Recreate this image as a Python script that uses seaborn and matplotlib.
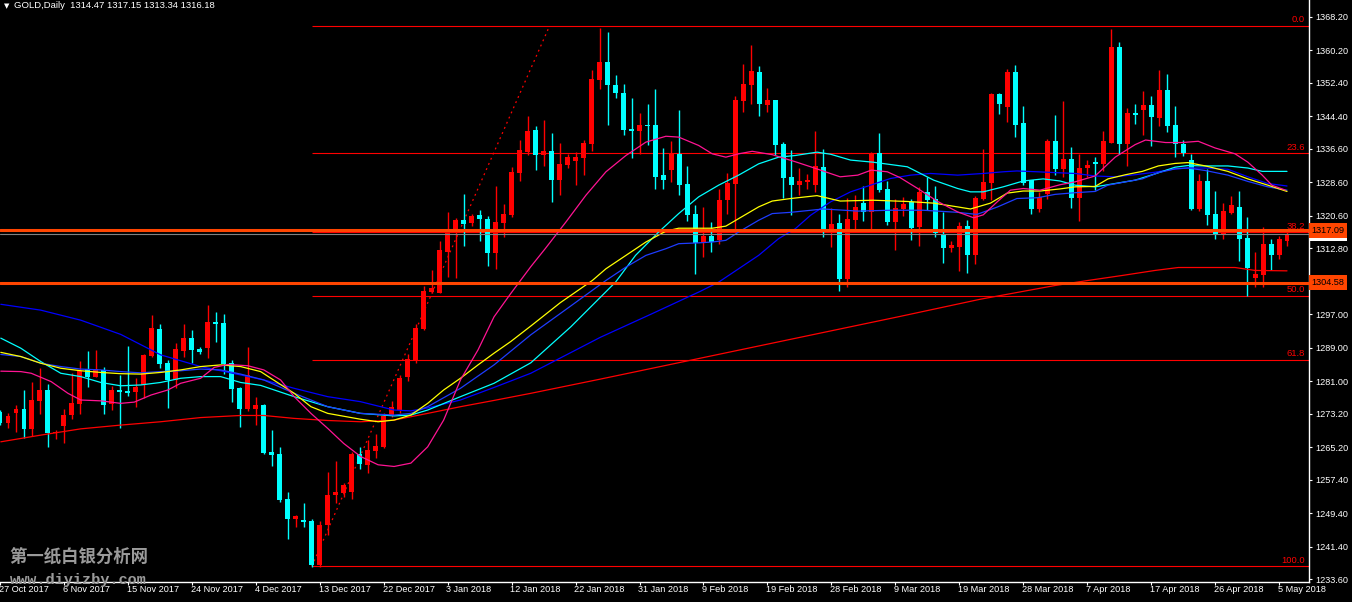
import numpy as np
import pandas as pd
import seaborn as sns
import matplotlib.pyplot as plt
import matplotlib.transforms as mtransforms

# daily OHLC, bar 0 = 27 Oct 2017 ... bar 161 = 7 May 2018
opens = [1273.7, 1270.9, 1273.5, 1274.4, 1269.6, 1276.3, 1278.9, 1268.5, 1270.4, 1272.8,
         1275.6, 1283.8, 1282.1, 1283.6, 1275.5, 1278.9, 1278.7, 1278.3, 1280.1, 1287.0,
         1293.5, 1285.4, 1281.2, 1288.2, 1291.3, 1288.7, 1289.0, 1295.2, 1295.0, 1285.4,
         1279.4, 1274.4, 1274.4, 1275.3, 1264.0, 1263.6, 1252.8, 1248.0, 1247.8, 1247.6,
         1237.0, 1246.6, 1253.7, 1254.3, 1254.6, 1263.7, 1260.9, 1264.4, 1265.2, 1272.9,
         1274.1, 1281.9, 1286.1, 1293.5, 1302.4, 1302.2, 1312.0, 1316.4, 1319.6, 1318.8,
         1320.8, 1319.7, 1311.6, 1318.9, 1320.8, 1330.8, 1335.8, 1341.1, 1335.0, 1336.1,
         1329.2, 1332.8, 1333.7, 1334.5, 1337.8, 1353.1, 1357.4, 1351.9, 1350.0, 1341.3,
         1340.8, 1342.3, 1342.3, 1330.3, 1331.6, 1335.4, 1328.2, 1321.0, 1314.1, 1315.7,
         1314.8, 1324.4, 1328.2, 1348.0, 1351.9, 1355.0, 1347.1, 1348.3, 1337.7, 1329.9,
         1327.9, 1328.6, 1327.9, 1332.2, 1317.4, 1318.8, 1305.4, 1319.6, 1323.6, 1321.5,
         1335.6, 1327.0, 1319.1, 1322.2, 1323.9, 1317.9, 1326.3, 1324.6, 1316.2, 1312.9,
         1313.1, 1318.1, 1311.2, 1324.6, 1328.4, 1349.7, 1346.6, 1355.0, 1342.8, 1329.1,
         1322.2, 1325.8, 1338.5, 1331.8, 1334.2, 1324.9, 1332.0, 1333.4, 1333.0, 1338.1,
         1361.0, 1337.8, 1345.0, 1346.0, 1347.1, 1344.0, 1350.7, 1342.3, 1337.8, 1333.9,
         1322.2, 1328.9, 1321.0, 1316.0, 1321.2, 1322.7, 1315.3, 1305.7, 1306.4, 1313.8,
         1311.2, 1314.47]
highs = [1274.0, 1273.3, 1275.3, 1278.9, 1280.7, 1284.1, 1280.3, 1269.4, 1274.4, 1282.9,
         1285.8, 1288.2, 1288.5, 1284.4, 1279.8, 1282.5, 1289.4, 1281.8, 1287.4, 1296.8,
         1294.7, 1286.0, 1290.2, 1294.7, 1293.3, 1289.3, 1299.2, 1297.6, 1297.1, 1286.1,
         1279.7, 1289.2, 1277.2, 1275.6, 1269.3, 1265.3, 1254.5, 1249.1, 1251.8, 1248.0,
         1247.6, 1259.3, 1261.9, 1256.7, 1264.1, 1265.3, 1266.9, 1268.3, 1273.3, 1276.3,
         1282.5, 1287.5, 1294.8, 1303.8, 1307.6, 1314.6, 1321.5, 1320.0, 1325.8, 1321.0,
         1322.0, 1320.5, 1327.7, 1323.4, 1332.3, 1338.8, 1344.5, 1342.1, 1343.6, 1340.4,
         1338.0, 1335.4, 1335.8, 1338.8, 1355.4, 1365.5, 1364.5, 1354.3, 1352.1, 1348.8,
         1345.2, 1347.3, 1350.9, 1336.8, 1338.5, 1345.9, 1332.6, 1323.1, 1322.6, 1319.1,
         1327.1, 1330.8, 1349.2, 1356.9, 1361.4, 1356.4, 1351.2, 1348.3, 1338.2, 1336.2,
         1332.0, 1330.6, 1340.9, 1336.5, 1322.4, 1321.0, 1324.8, 1325.5, 1327.7, 1335.8,
         1340.4, 1328.9, 1324.6, 1325.1, 1324.6, 1327.5, 1329.8, 1327.7, 1321.5, 1314.5,
         1319.1, 1319.6, 1325.3, 1336.5, 1349.9, 1349.9, 1355.7, 1356.6, 1346.8, 1329.1,
         1326.3, 1339.0, 1344.7, 1348.0, 1337.0, 1335.3, 1333.9, 1334.7, 1340.9, 1365.3,
         1362.2, 1346.4, 1347.4, 1350.4, 1349.2, 1355.5, 1354.5, 1346.8, 1338.7, 1335.4,
         1330.6, 1331.8, 1326.5, 1323.6, 1325.3, 1326.5, 1320.3, 1311.9, 1317.9, 1315.0,
         1315.7, 1317.15]
lows = [1270.5, 1269.7, 1268.9, 1267.3, 1267.9, 1273.2, 1265.3, 1267.2, 1266.1, 1271.9,
        1273.2, 1279.7, 1282.1, 1273.2, 1274.1, 1269.9, 1277.5, 1274.9, 1277.1, 1286.9,
        1284.2, 1274.5, 1279.3, 1286.9, 1285.4, 1287.5, 1286.6, 1290.4, 1282.7, 1276.0,
        1270.1, 1273.9, 1270.6, 1263.5, 1260.7, 1252.2, 1243.3, 1246.2, 1246.2, 1236.6,
        1236.6, 1244.3, 1251.8, 1253.4, 1252.8, 1260.1, 1259.1, 1262.7, 1264.9, 1272.4,
        1273.3, 1281.1, 1285.3, 1293.2, 1302.0, 1302.0, 1305.9, 1305.8, 1313.4, 1318.2,
        1314.5, 1308.6, 1307.9, 1315.4, 1320.3, 1329.0, 1335.2, 1331.6, 1332.6, 1323.9,
        1325.5, 1331.9, 1328.0, 1330.4, 1336.0, 1351.0, 1342.2, 1348.7, 1340.0, 1334.3,
        1335.4, 1337.4, 1327.1, 1327.1, 1328.7, 1325.6, 1319.3, 1306.7, 1310.7, 1311.8,
        1313.9, 1321.0, 1317.3, 1345.4, 1347.4, 1344.5, 1345.5, 1335.0, 1324.8, 1320.7,
        1325.5, 1327.0, 1326.3, 1315.5, 1313.1, 1302.6, 1303.5, 1317.4, 1319.3, 1317.4,
        1326.3, 1318.4, 1312.4, 1320.5, 1314.8, 1313.3, 1322.0, 1315.5, 1309.3, 1311.9,
        1307.4, 1306.9, 1309.0, 1324.3, 1324.3, 1344.9, 1343.0, 1339.4, 1327.9, 1321.0,
        1321.5, 1324.6, 1330.3, 1329.9, 1322.5, 1319.3, 1329.9, 1326.7, 1331.4, 1337.9,
        1335.4, 1332.6, 1342.6, 1340.0, 1337.3, 1342.1, 1340.6, 1334.6, 1334.9, 1321.9,
        1321.7, 1318.4, 1315.0, 1315.0, 1321.0, 1309.8, 1301.4, 1303.5, 1303.5, 1307.6,
        1310.2, 1313.34]
closes = [1270.9, 1272.7, 1274.4, 1269.6, 1276.5, 1278.9, 1268.5, 1268.9, 1272.9, 1275.9,
          1283.4, 1282.1, 1283.8, 1275.2, 1278.9, 1278.4, 1278.2, 1279.6, 1287.3, 1293.7,
          1285.1, 1281.2, 1288.7, 1291.3, 1288.5, 1288.0, 1295.2, 1294.7, 1285.1, 1279.1,
          1274.4, 1282.4, 1275.3, 1263.9, 1263.4, 1252.6, 1248.0, 1248.8, 1247.3, 1237.0,
          1246.6, 1253.8, 1254.5, 1256.2, 1263.6, 1261.1, 1264.5, 1265.5, 1272.7, 1274.8,
          1281.8, 1286.3, 1293.7, 1302.6, 1303.3, 1312.4, 1316.4, 1319.6, 1318.7, 1320.5,
          1319.7, 1311.6, 1319.1, 1321.0, 1331.0, 1336.3, 1340.9, 1335.0, 1336.1, 1329.2,
          1333.0, 1334.6, 1334.6, 1338.0, 1353.3, 1357.4, 1351.8, 1350.0, 1341.2, 1340.8,
          1342.2, 1342.1, 1329.9, 1329.2, 1335.4, 1328.0, 1320.8, 1314.1, 1315.7, 1314.3,
          1324.4, 1328.3, 1348.3, 1352.1, 1355.2, 1347.4, 1348.3, 1337.5, 1329.7, 1328.0,
          1328.9, 1329.1, 1332.5, 1317.4, 1318.6, 1305.4, 1319.8, 1322.7, 1321.5, 1335.6,
          1326.7, 1319.1, 1322.4, 1323.4, 1317.6, 1326.3, 1324.3, 1316.4, 1312.9, 1313.6,
          1318.1, 1311.2, 1324.8, 1328.6, 1349.7, 1347.3, 1355.0, 1342.3, 1328.4, 1322.2,
          1325.1, 1338.5, 1331.8, 1334.2, 1324.9, 1332.0, 1332.7, 1333.0, 1338.5, 1361.0,
          1337.8, 1345.2, 1344.8, 1347.1, 1344.2, 1350.7, 1342.1, 1337.8, 1335.6, 1322.2,
          1328.9, 1320.8, 1316.2, 1321.7, 1323.2, 1315.0, 1308.1, 1306.6, 1313.8, 1311.2,
          1315.0, 1316.18]

date_labels = ["27 Oct 2017", "6 Nov 2017", "15 Nov 2017", "24 Nov 2017", "4 Dec 2017",
               "13 Dec 2017", "22 Dec 2017", "3 Jan 2018", "12 Jan 2018", "22 Jan 2018",
               "31 Jan 2018", "9 Feb 2018", "19 Feb 2018", "28 Feb 2018", "9 Mar 2018",
               "19 Mar 2018", "28 Mar 2018", "7 Apr 2018", "17 Apr 2018", "26 Apr 2018",
               "5 May 2018"]
label_bars = list(range(0, 161, 8))
price_ticks = [1368.2, 1360.2, 1352.4, 1344.4, 1336.6, 1328.6, 1320.6, 1312.8, 1297.0,
               1289.0, 1281.0, 1273.2, 1265.2, 1257.4, 1249.4, 1241.4, 1233.6]

# moving averages (bar position, value)
ma_pink_bar = [0.1, 2.6, 3.9, 6.4, 8.5, 10.1, 12.6, 15.1, 16.8, 18.9, 21.0, 22.6, 25.1, 26.8,
               28.5, 31.0, 33.0, 35.1, 36.8, 38.9, 41.0, 43.0, 45.1, 47.3, 49.3, 51.4, 53.5,
               55.5, 57.6, 59.8, 61.8, 63.9, 66.4, 68.2, 70.8, 73.3, 75.8, 78.3, 80.8, 83.3,
               84.9, 87.4, 89.1, 90.8, 92.4, 94.1, 96.6, 99.5, 101.4, 105.1, 107.3, 109.0,
               111.0, 112.6, 114.8, 117.3, 119.8, 121.8, 123.0, 124.8, 126.4, 128.0, 130.1,
               132.6, 134.5, 137.0, 139.5, 142.0, 143.3, 145.8, 147.9, 149.9, 152.0, 154.5,
               156.1, 157.9, 159.1, 160.8]
ma_pink_val = [1283.4, 1283.3, 1282.9, 1280.9, 1278.1, 1276.5, 1276.3, 1275.7, 1276.0, 1277.7,
               1278.9, 1280.5, 1281.7, 1284.3, 1285.0, 1284.7, 1283.7, 1281.3, 1277.3, 1273.3,
               1269.7, 1266.1, 1263.0, 1261.0, 1260.6, 1261.4, 1265.3, 1271.7, 1281.3, 1288.5,
               1296.4, 1302.0, 1308.4, 1312.7, 1319.1, 1325.5, 1331.1, 1335.0, 1338.2, 1339.6,
               1339.4, 1337.4, 1335.4, 1334.6, 1335.4, 1336.0, 1335.2, 1333.5, 1332.3, 1329.9,
               1330.3, 1331.5, 1331.1, 1329.7, 1327.1, 1324.0, 1321.5, 1320.1, 1320.8, 1324.0,
               1326.7, 1327.1, 1326.7, 1328.0, 1328.7, 1330.1, 1334.6, 1337.6, 1338.7, 1338.1,
               1338.1, 1338.4, 1336.8, 1335.4, 1333.4, 1330.3, 1327.9, 1326.7]

ma_yellow_bar = [0.1, 2.6, 5.1, 7.6, 10.1, 12.6, 15.1, 17.6, 20.1, 22.6, 25.1, 27.6, 30.1,
                 32.6, 36.8, 38.9, 41.0, 45.1, 47.3, 49.3, 51.4, 53.5, 55.5, 57.6, 59.8, 61.8,
                 63.9, 66.4, 70.1, 74.1, 75.8, 78.3, 80.8, 83.3, 84.9, 87.4, 89.1, 90.8, 92.4,
                 94.9, 96.6, 98.9, 102.2, 105.1, 109.2, 113.5, 116.8, 119.8, 121.4, 123.9,
                 126.0, 128.0, 130.1, 132.6, 134.5, 137.0, 138.6, 140.8, 142.9, 144.9, 147.0,
                 148.6, 150.8, 153.6, 156.1, 158.6, 161.0]
ma_yellow_val = [1287.9, 1286.9, 1285.3, 1284.1, 1283.5, 1283.1, 1282.8, 1282.7, 1283.1, 1283.7,
                 1284.5, 1284.9, 1284.5, 1283.3, 1278.1, 1274.9, 1273.3, 1271.9, 1271.3, 1271.7,
                 1272.9, 1275.7, 1278.9, 1281.7, 1284.9, 1287.7, 1290.5, 1294.2, 1299.8, 1305.1,
                 1307.9, 1311.1, 1314.3, 1316.9, 1317.6, 1317.6, 1317.6, 1318.1, 1319.9, 1322.7,
                 1324.1, 1324.7, 1325.4, 1324.1, 1324.3, 1324.0, 1323.6, 1322.7, 1322.2, 1323.6,
                 1326.0, 1326.5, 1326.5, 1327.0, 1327.5, 1327.6, 1329.4, 1330.4, 1331.2, 1332.5,
                 1333.1, 1333.3, 1332.5, 1331.2, 1329.4, 1327.9, 1326.4]

ma_cyan_bar = [0.1, 2.6, 5.1, 7.6, 10.1, 12.6, 15.1, 17.6, 20.1, 22.6, 25.1, 27.6, 30.1, 32.6,
               36.8, 41.0, 45.1, 49.3, 51.4, 53.5, 57.6, 61.8, 66.4, 71.4, 77.0, 79.5, 82.4,
               84.9, 87.4, 89.9, 92.4, 94.9, 97.4, 99.5, 102.2, 103.9, 106.4, 109.2, 113.5,
               116.8, 119.8, 121.4, 123.0, 125.5, 128.0, 130.5, 132.6, 134.5, 137.0, 139.5,
               142.0, 144.5, 147.0, 148.6, 150.8, 153.6, 156.1, 157.9, 161.0]
ma_cyan_val = [1291.3, 1288.9, 1285.7, 1282.9, 1282.1, 1280.7, 1279.9, 1280.1, 1280.7, 1281.7,
               1282.1, 1282.1, 1280.7, 1280.0, 1277.3, 1274.9, 1273.3, 1272.7, 1272.9, 1274.1,
               1277.3, 1280.5, 1285.4, 1294.0, 1304.7, 1311.1, 1316.7, 1321.1, 1325.1, 1327.9,
               1330.3, 1333.0, 1334.6, 1335.0, 1335.8, 1335.3, 1333.9, 1333.4, 1332.3, 1329.1,
               1327.1, 1326.3, 1326.3, 1327.5, 1328.9, 1329.4, 1328.9, 1327.9, 1327.5, 1328.3,
               1329.1, 1330.6, 1332.2, 1332.6, 1332.5, 1332.5, 1332.0, 1331.2, 1331.2]

ma_blue_bar = [0.1, 2.6, 5.1, 7.6, 10.1, 12.6, 15.1, 17.6, 20.1, 22.6, 25.1, 27.6, 30.1, 33.0,
               36.8, 41.0, 45.1, 49.3, 51.4, 53.5, 57.6, 61.8, 66.4, 71.4, 75.8, 78.3, 80.8,
               83.3, 84.9, 87.4, 89.1, 90.8, 92.4, 94.9, 96.6, 98.9, 103.0, 107.3, 111.4,
               115.5, 119.8, 122.2, 124.8, 127.2, 129.8, 132.0, 134.5, 137.0, 138.6, 140.8,
               142.9, 144.9, 147.0, 148.6, 150.8, 153.6, 156.1, 158.6, 161.0]
ma_blue_val = [1287.4, 1286.9, 1285.3, 1284.5, 1283.9, 1283.7, 1283.3, 1283.0, 1283.3, 1283.5,
               1283.9, 1283.7, 1282.7, 1281.3, 1278.1, 1274.9, 1273.3, 1272.9, 1273.3, 1274.9,
               1279.3, 1284.9, 1292.1, 1299.0, 1305.1, 1308.3, 1311.1, 1312.7, 1313.9, 1314.1,
               1314.3, 1314.7, 1316.7, 1319.5, 1321.1, 1321.4, 1322.2, 1321.7, 1321.9, 1321.9,
               1321.4, 1320.9, 1322.7, 1324.7, 1324.9, 1325.7, 1326.1, 1326.4, 1327.9, 1328.7,
               1329.4, 1330.9, 1331.8, 1332.0, 1331.4, 1330.3, 1328.8, 1327.5, 1326.7]

ma_slow_blue_bar = [0.1, 5.1, 10.1, 15.1, 20.1, 25.1, 30.1, 33.0, 36.8, 41.0, 45.1, 49.3, 51.4,
                    53.5, 57.6, 61.8, 66.4, 75.1, 81.4, 87.6, 89.9, 92.4, 94.9, 97.4, 99.5,
                    101.4, 103.9, 106.4, 108.9, 111.4, 113.9, 116.4, 119.8, 123.0, 125.5, 127.2,
                    129.8, 132.0, 134.5, 137.0, 139.5, 142.0, 144.5, 147.0, 148.6, 150.8, 153.6,
                    156.1, 158.6, 161.0]
ma_slow_blue_val = [1299.4, 1298.0, 1295.6, 1292.2, 1287.3, 1284.5, 1282.5, 1281.3, 1279.3,
                    1277.3, 1276.1, 1274.1, 1273.9, 1274.6, 1276.5, 1279.5, 1282.9, 1291.5,
                    1297.0, 1302.5, 1304.7, 1307.9, 1311.1, 1315.1, 1317.5, 1320.7, 1323.9,
                    1326.3, 1327.9, 1329.5, 1330.3, 1330.7, 1330.3, 1330.7, 1331.1, 1331.3,
                    1331.1, 1330.9, 1330.7, 1330.1, 1329.9, 1330.4, 1331.0, 1331.8, 1332.0,
                    1332.0, 1331.7, 1329.9, 1328.3, 1327.7]

ma_red_bar = [0.1, 5.1, 10.1, 15.1, 20.1, 25.1, 30.1, 33.0, 36.8, 41.0, 45.1, 49.3, 53.5, 57.6,
              61.8, 66.4, 75.1, 87.6, 100.1, 112.6, 122.6, 132.0, 136.1, 140.4, 144.5, 147.4,
              154.5, 157.0, 161.0]
ma_red_val = [1266.5, 1268.1, 1269.6, 1270.5, 1271.3, 1272.3, 1272.8, 1272.8, 1272.1, 1271.6,
              1271.3, 1271.7, 1273.3, 1274.9, 1276.4, 1278.1, 1281.5, 1286.5, 1291.5, 1296.5,
              1300.6, 1303.9, 1305.1, 1306.3, 1307.5, 1308.2, 1308.2, 1307.5, 1307.4]

# fibonacci retracement anchors (bar, price) and levels
fib_low_bar, fib_low = 39, 1236.7
fib_high_bar, fib_high = 68.75, 1366.0
fib_levels = [0.0, 23.6, 38.2, 50.0, 61.8, 100.0]

hlines = [1317.09, 1304.58]
bid_price = 1316.18
header = "GOLD,Daily  1314.47 1317.15 1313.34 1316.18"

UP, DOWN = "#ff0000", "#00ffff"
FIB = "#ff0000"
HL = "#ff4500"

sns.set_theme(style="dark", rc={"axes.facecolor": "black", "figure.facecolor": "black",
                                "axes.grid": False})
plt.rcParams["font.family"] = ["Liberation Sans", "DejaVu Sans"]

W, H = 1352, 602
fig = plt.figure(figsize=(W / 100, H / 100), dpi=100)
ax = fig.add_axes([0, 20 / H, 1309 / W, 582 / H])
ax.set_facecolor("black")

df = pd.DataFrame({"open": opens, "high": highs, "low": lows, "close": closes})
df["bar"] = np.arange(len(df))
colors = np.where(df["close"] >= df["open"], UP, DOWN)

# fibonacci lines and trend line
rng = fib_high - fib_low
for lev in fib_levels:
    p = fib_high - rng * lev / 100
    ax.hlines(p, fib_low_bar, 170, color=FIB, lw=0.8, zorder=1)
    ax.text(0.997, p + 0.4, f"{lev:.1f}", transform=ax.get_yaxis_transform(),
            ha="right", va="bottom", color=FIB, fontsize=6.8, zorder=6)
ax.plot([fib_low_bar, fib_high_bar], [fib_low, fib_high], color=FIB, lw=0.9,
        ls=(0, (1.5, 3)), zorder=1)

# candles
ax.vlines(df["bar"], df["low"], df["high"], colors=colors, lw=1.0, zorder=2)
body = (df["close"] - df["open"]).abs().clip(lower=0.25)
bottom = df[["open", "close"]].min(axis=1)
ax.bar(df["bar"], body, bottom=bottom, width=0.62, color=colors, linewidth=0, zorder=3)

# moving averages
ma = pd.concat([
    pd.DataFrame({"bar": ma_red_bar, "value": ma_red_val, "line": "red"}),
    pd.DataFrame({"bar": ma_slow_blue_bar, "value": ma_slow_blue_val, "line": "slowblue"}),
    pd.DataFrame({"bar": ma_cyan_bar, "value": ma_cyan_val, "line": "cyan"}),
    pd.DataFrame({"bar": ma_blue_bar, "value": ma_blue_val, "line": "blue"}),
    pd.DataFrame({"bar": ma_yellow_bar, "value": ma_yellow_val, "line": "yellow"}),
    pd.DataFrame({"bar": ma_pink_bar, "value": ma_pink_val, "line": "pink"}),
])
palette = {"red": "#ff0000", "slowblue": "#0000ff", "cyan": "#00ffff",
           "blue": "#1e3cff", "yellow": "#ffff00", "pink": "#ff1493"}
sns.lineplot(data=ma, x="bar", y="value", hue="line", palette=palette, ax=ax,
             legend=False, sort=False, estimator=None, linewidth=0.9, zorder=4)

# horizontal lines
ax.axhline(bid_price, color="#808080", lw=0.8, zorder=5)
for p in hlines:
    ax.axhline(p, color=HL, lw=2.2, zorder=5)

ax.set_xlim(0.125, 163.75)
ax.set_ylim(1232.96, 1372.2)

# axes styling
for s in ["top", "left"]:
    ax.spines[s].set_visible(False)
for s in ["right", "bottom"]:
    ax.spines[s].set_color("white")
    ax.spines[s].set_linewidth(1.0)
ax.yaxis.tick_right()
ax.set_yticks(price_ticks)
ax.set_yticklabels([f"{v:.2f}" for v in price_ticks])
ax.tick_params(axis="y", colors="white", length=2.5, width=0.8, pad=2, labelsize=6.6,
               left=False, right=True)
ax.set_xticks(label_bars)
ax.set_xticklabels([])
ax.tick_params(axis="x", colors="white", length=2.5, width=0.8, bottom=True)
ax.set_xlabel("")
ax.set_ylabel("")

lab_tr = mtransforms.offset_copy(ax.get_xaxis_transform(), fig=fig, x=2, y=-3, units="dots")
for b, lab in zip(label_bars, date_labels):
    ax.text(b - 0.4, 0, lab, transform=lab_tr, ha="left", va="top", color="white",
            fontsize=6.6, clip_on=False)

# price boxes on the right axis
ytr = ax.get_yaxis_transform()
ax.text(1.002, bid_price, f"{bid_price:.2f}", transform=ytr, ha="left", va="center",
        fontsize=6.6, color="black", clip_on=False, zorder=7,
        bbox=dict(boxstyle="square,pad=0.3", fc="white", ec="none"))
for p in hlines:
    ax.text(1.002, p, f"{p:.2f}", transform=ytr, ha="left", va="center", fontsize=6.6,
            color="black", clip_on=False, zorder=8,
            bbox=dict(boxstyle="square,pad=0.3", fc=HL, ec="none"))

# header
fig.text(4 / W, 1 - 6 / H, "\u25bc", color="white", fontsize=5, va="center", ha="left",
         family="DejaVu Sans")
fig.text(14 / W, 1 - 6 / H, header, color="white", fontsize=6.8, va="center", ha="left")

# watermark
fig.text(9 / W, 1 - 557 / H, "第一纸白银分析网", color="#9a9a9a", fontsize=12.5,
         va="center", ha="left", weight="bold", family=["Noto Sans CJK SC", "DejaVu Sans"])
fig.text(10 / W, 1 - 580 / H, "www.diyizby.com", color="#9a9a9a", fontsize=11,
         va="center", ha="left", weight="bold", family="Liberation Mono")

fig.savefig("out.png", dpi=100, facecolor="black")
